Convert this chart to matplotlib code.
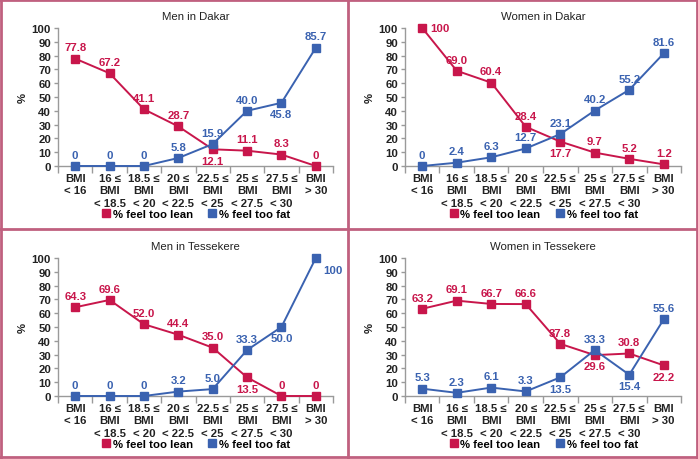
import matplotlib
matplotlib.use("Agg")
import matplotlib.pyplot as plt
from matplotlib.lines import Line2D
import numpy as np

plt.rcParams['font.family'] = ['Liberation Sans', 'DejaVu Sans']

categories = ["BMI\n< 16", "16 ≤\nBMI\n< 18.5", "18.5 ≤\nBMI\n< 20", "20 ≤\nBMI\n< 22.5",
              "22.5 ≤\nBMI\n< 25", "25 ≤\nBMI\n< 27.5", "27.5 ≤\nBMI\n< 30", "BMI\n> 30"]

titles = ["Men in Dakar", "Women in Dakar", "Men in Tessekere", "Women in Tessekere"]

lean_men_dakar = [77.8, 67.2, 41.1, 28.7, 12.1, 11.1, 8.3, 0]
fat_men_dakar = [0, 0, 0, 5.8, 15.9, 40.0, 45.8, 85.7]
lean_women_dakar = [100, 69.0, 60.4, 28.4, 17.7, 9.7, 5.2, 1.2]
fat_women_dakar = [0, 2.4, 6.3, 12.7, 23.1, 40.2, 55.2, 81.6]
lean_men_tess = [64.3, 69.6, 52.0, 44.4, 35.0, 13.5, 0, 0]
fat_men_tess = [0, 0, 0, 3.2, 5.0, 33.3, 50.0, 100]
lean_women_tess = [63.2, 69.1, 66.7, 66.6, 37.8, 29.6, 30.8, 22.2]
fat_women_tess = [5.3, 2.3, 6.1, 3.3, 13.5, 33.3, 15.4, 55.6]

lean_labels_men_dakar = ["77.8", "67.2", "41.1", "28.7", "12.1", "11.1", "8.3", "0"]
fat_labels_men_dakar = ["0", "0", "0", "5.8", "15.9", "40.0", "45.8", "85.7"]
lean_labels_women_dakar = ["100", "69.0", "60.4", "28.4", "17.7", "9.7", "5.2", "1.2"]
fat_labels_women_dakar = ["0", "2.4", "6.3", "12.7", "23.1", "40.2", "55.2", "81.6"]
lean_labels_men_tess = ["64.3", "69.6", "52.0", "44.4", "35.0", "13.5", "0", "0"]
fat_labels_men_tess = ["0", "0", "0", "3.2", "5.0", "33.3", "50.0", "100"]
lean_labels_women_tess = ["63.2", "69.1", "66.7", "66.6", "37.8", "29.6", "30.8", "22.2"]
fat_labels_women_tess = ["5.3", "2.3", "6.1", "3.3", "13.5", "33.3", "15.4", "55.6"]

# label placement: a = above, b = below, r = right, br = below-right
lean_pos = [
    ["a", "a", "a", "a", "b", "a", "a", "a"],
    ["r", "a", "a", "a", "b", "a", "a", "a"],
    ["a", "a", "a", "a", "a", "b", "a", "a"],
    ["a", "a", "a", "a", "a", "b", "a", "b"],
]
fat_pos = [
    ["a", "a", "a", "a", "a", "a", "b", "a"],
    ["a", "a", "a", "a", "a", "a", "a", "a"],
    ["a", "a", "a", "a", "a", "a", "b", "br"],
    ["a", "a", "a", "a", "b", "a", "b", "a"],
]

lean_data = [lean_men_dakar, lean_women_dakar, lean_men_tess, lean_women_tess]
fat_data = [fat_men_dakar, fat_women_dakar, fat_men_tess, fat_women_tess]
lean_lbls = [lean_labels_men_dakar, lean_labels_women_dakar, lean_labels_men_tess, lean_labels_women_tess]
fat_lbls = [fat_labels_men_dakar, fat_labels_women_dakar, fat_labels_men_tess, fat_labels_women_tess]

RED = "#c8164b"
BLUE = "#3a62b0"
PINK = "#c0607f"
GRAY = "#9a9a9a"
TXT = "#222222"
FS = 8.2
W, H = 698, 460

fig = plt.figure(figsize=(W / 100, H / 100), dpi=100)

# panel axes in pixel coords: (left, top, right, bottom)
boxes = [(58, 29, 333, 167), (405, 29, 681, 167), (58, 259, 333, 397), (405, 259, 681, 397)]
panel_tops = [0, 0, 230, 230]

def place(ax, x, y, txt, pos, color):
    off = {"a": (0, 4.5, "center", "bottom"), "b": (0, -4.5, "center", "top"),
           "r": (6, 0, "left", "center"), "br": (5, -5, "left", "top")}[pos]
    ax.annotate(txt, (x, y), xytext=(off[0], off[1]), textcoords="offset points",
                ha=off[2], va=off[3], color=color, fontsize=FS, fontweight="bold",
                annotation_clip=False)

x = np.arange(len(categories))
for i in range(4):
    l, t, r, b = boxes[i]
    ax = fig.add_axes([l / W, 1 - b / H, (r - l) / W, (b - t) / H])
    ax.plot(x, lean_data[i], color=RED, lw=1.4, marker="s", ms=5.5, clip_on=False, zorder=3)
    ax.plot(x, fat_data[i], color=BLUE, lw=1.4, marker="s", ms=5.5, clip_on=False, zorder=3)
    for j in range(len(x)):
        place(ax, x[j], lean_data[i][j], lean_lbls[i][j], lean_pos[i][j], RED)
        place(ax, x[j], fat_data[i][j], fat_lbls[i][j], fat_pos[i][j], BLUE)
    ax.set_xlim(-0.5, 7.5)
    ax.set_ylim(0, 100)
    ax.set_yticks(np.arange(0, 101, 10))
    ax.set_xticks(x)
    ax.set_xticklabels(categories, fontsize=FS, fontweight="bold", color=TXT, linespacing=1.3)
    ax.set_xticks(np.arange(-0.5, 8, 1), minor=True)
    ax.tick_params(axis="x", which="major", length=0, pad=5)
    ax.tick_params(axis="x", which="minor", length=5, color=GRAY, width=1)
    ax.tick_params(axis="y", length=3, color=GRAY, width=1, labelsize=FS, pad=2)
    for lab in ax.get_yticklabels():
        lab.set_fontweight("bold")
        lab.set_color(TXT)
    for s in ["top", "right"]:
        ax.spines[s].set_visible(False)
    for s in ["left", "bottom"]:
        ax.spines[s].set_color(GRAY)
        ax.spines[s].set_linewidth(1)
    ax.set_ylabel("%", fontsize=FS, fontweight="bold", labelpad=3, color=TXT)
    cx = (l + r) / 2
    fig.text(cx / W, 1 - (panel_tops[i] + 17) / H, titles[i], ha="center", va="center",
             fontsize=FS, color=TXT)
    handles = [Line2D([], [], color=RED, marker="s", ls="none", ms=5.5),
               Line2D([], [], color=BLUE, marker="s", ls="none", ms=5.5)]
    fig.legend(handles, ["% feel too lean", "% feel too fat"], loc="center",
               bbox_to_anchor=(cx / W, 1 - (panel_tops[i] + 215) / H), ncol=2, frameon=False,
               handletextpad=0.1, columnspacing=1.2, handlelength=1.0,
               prop={"weight": "bold", "size": FS})

# borders
for xs, ys in [([1, 1], [0, H]), ([W - 1, W - 1], [0, H]), ([0, W], [1, 1]), ([0, W], [H - 2, H - 2]),
               ([348, 348], [0, H]), ([0, W], [230, 230])]:
    fig.add_artist(Line2D([v / W for v in xs], [1 - v / H for v in ys], color=PINK, lw=2))

fig.savefig("out.png", dpi=100)
